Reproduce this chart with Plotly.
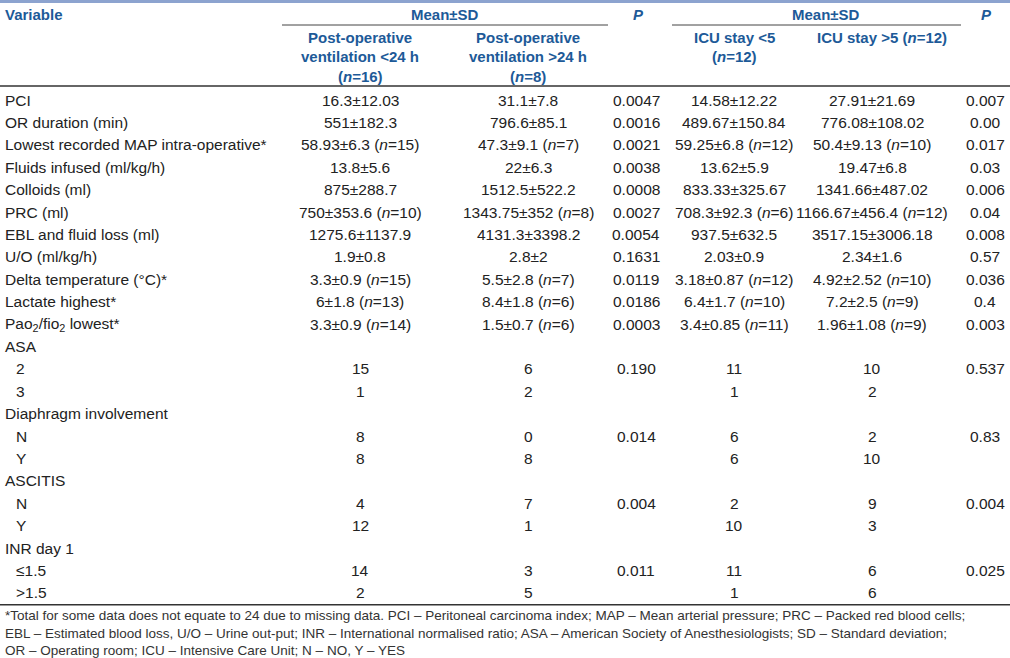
import plotly.graph_objects as go

# ---------------- data ----------------
variables = ["PCI", "OR duration (min)", "Lowest recorded MAP intra-operative*",
             "Fluids infused (ml/kg/h)", "Colloids (ml)", "PRC (ml)",
             "EBL and fluid loss (ml)", "U/O (ml/kg/h)", "Delta temperature (°C)*",
             "Lactate highest*", "Pao<sub>2</sub>/fio<sub>2</sub> lowest*",
             "ASA", "2", "3", "Diaphragm involvement", "N", "Y",
             "ASCITIS", "N", "Y", "INR day 1", "≤1.5", "&gt;1.5"]
is_sub = [0, 0, 0, 0, 0, 0, 0, 0, 0, 0, 0,
          0, 1, 1, 0, 1, 1, 0, 1, 1, 0, 1, 1]

vent_lt24 = ["16.3±12.03", "551±182.3", "58.93±6.3 (<i>n</i>=15)", "13.8±5.6",
             "875±288.7", "750±353.6 (<i>n</i>=10)", "1275.6±1137.9", "1.9±0.8",
             "3.3±0.9 (<i>n</i>=15)", "6±1.8 (<i>n</i>=13)", "3.3±0.9 (<i>n</i>=14)",
             "", "15", "1", "", "8", "8", "", "4", "12", "", "14", "2"]
vent_gt24 = ["31.1±7.8", "796.6±85.1", "47.3±9.1 (<i>n</i>=7)", "22±6.3",
             "1512.5±522.2", "1343.75±352 (<i>n</i>=8)", "4131.3±3398.2", "2.8±2",
             "5.5±2.8 (<i>n</i>=7)", "8.4±1.8 (<i>n</i>=6)", "1.5±0.7 (<i>n</i>=6)",
             "", "6", "2", "", "0", "8", "", "7", "1", "", "3", "5"]
p_vent = ["0.0047", "0.0016", "0.0021", "0.0038", "0.0008", "0.0027", "0.0054",
          "0.1631", "0.0119", "0.0186", "0.0003", "", "0.190", "", "", "0.014", "",
          "", "0.004", "", "", "0.011", ""]
icu_lt5 = ["14.58±12.22", "489.67±150.84", "59.25±6.8 (<i>n</i>=12)", "13.62±5.9",
           "833.33±325.67", "708.3±92.3 (<i>n</i>=6)", "937.5±632.5", "2.03±0.9",
           "3.18±0.87 (<i>n</i>=12)", "6.4±1.7 (<i>n</i>=10)", "3.4±0.85 (<i>n</i>=11)",
           "", "11", "1", "", "6", "6", "", "2", "10", "", "11", "1"]
icu_gt5 = ["27.91±21.69", "776.08±108.02", "50.4±9.13 (<i>n</i>=10)", "19.47±6.8",
           "1341.66±487.02", "1166.67±456.4 (<i>n</i>=12)", "3517.15±3006.18", "2.34±1.6",
           "4.92±2.52 (<i>n</i>=10)", "7.2±2.5 (<i>n</i>=9)", "1.96±1.08 (<i>n</i>=9)",
           "", "10", "2", "", "2", "10", "", "9", "3", "", "6", "6"]
p_icu = ["0.007", "0.00", "0.017", "0.03", "0.006", "0.04", "0.008", "0.57",
         "0.036", "0.4", "0.003", "", "0.537", "", "", "0.83", "", "", "0.004", "",
         "", "0.025", ""]

group_headers = ["Mean±SD", "<i>P</i>", "Mean±SD", "<i>P</i>"]
col_headers = [["Post-operative", "ventilation &lt;24 h", "(<i>n</i>=16)"],
               ["Post-operative", "ventilation &gt;24 h", "(<i>n</i>=8)"],
               ["ICU stay &lt;5", "(<i>n</i>=12)"],
               ["ICU stay &gt;5 (<i>n</i>=12)"]]
footnote = ["*Total for some data does not equate to 24 due to missing data. PCI – Peritoneal carcinoma index; MAP – Mean arterial pressure; PRC – Packed red blood cells;",
            "EBL – Estimated blood loss, U/O – Urine out-put; INR – International normalised ratio; ASA – American Society of Anesthesiologists; SD – Standard deviation;",
            "OR – Operating room; ICU – Intensive Care Unit; N – NO, Y – YES"]

# ---------------- layout constants ----------------
W, H = 1010, 658
BODY_FONT = "Liberation Sans, Arial, sans-serif"
FOOT_FONT = "Liberation Sans Narrow, Arial Narrow, Liberation Sans, sans-serif"
TXT = "#222222"
BLUE = "#1d5a98"
FS = 15.5
HFS = 15

col_x = [360, 528, 636, 734, 872, 985]
group_x = [445, 638, 826, 986]
col_head_x = [360, 528, 734, 882]
VAR_X, SUB_X = 3, 14
ROW0, ROW_H = 100, 22.4
HEAD0, HEAD_H = 37, 19.5

columns = [vent_lt24, vent_gt24, p_vent, icu_lt5, icu_gt5, p_icu]

fig = go.Figure()
ann = []

def add(x, y, text, anchor="center", color=TXT, size=FS, family=BODY_FONT, yanchor="middle"):
    ann.append(dict(x=x, y=y, xref="x", yref="y", text=text, showarrow=False,
                    xanchor=anchor, yanchor=yanchor, align=anchor if anchor != "center" else "center",
                    font=dict(family=family, size=size, color=color)))

# header
add(VAR_X, 14, "<b>Variable</b>", anchor="left", color=BLUE, size=HFS)
for gx, gh in zip(group_x, group_headers):
    add(gx, 14, "<b>" + gh + "</b>", color=BLUE, size=HFS)
for hx, lines in zip(col_head_x, col_headers):
    for j, ln in enumerate(lines):
        add(hx, HEAD0 + j * HEAD_H, "<b>" + ln + "</b>", color=BLUE, size=HFS)

# body rows
for i, v in enumerate(variables):
    y = ROW0 + i * ROW_H
    add(SUB_X if is_sub[i] else VAR_X, y, v, anchor="left")
    for cx, col in zip(col_x, columns):
        if col[i]:
            add(cx, y, col[i])

# footnote
last_y = ROW0 + (len(variables) - 1) * ROW_H
line_y = last_y + 12
for k, f in enumerate(footnote):
    add(VAR_X, line_y + 11 + k * 17.3, f, anchor="left", family=FOOT_FONT, size=13.5, color="#333333")

shapes = [
    dict(type="rect", xref="x", yref="y", x0=0, x1=W, y0=0, y1=3, fillcolor="#8ca3cf", line=dict(width=0)),
    dict(type="line", xref="x", yref="y", x0=282, x1=608, y0=25, y1=25, line=dict(color="#444444", width=1)),
    dict(type="line", xref="x", yref="y", x0=672, x1=961, y0=25, y1=25, line=dict(color="#444444", width=1)),
    dict(type="line", xref="x", yref="y", x0=0, x1=W, y0=86, y1=86, line=dict(color="#333333", width=1.5)),
    dict(type="line", xref="x", yref="y", x0=0, x1=W, y0=line_y, y1=line_y, line=dict(color="#333333", width=1.5)),
]

fig.update_layout(
    width=W, height=H, margin=dict(l=0, r=0, t=0, b=0),
    paper_bgcolor="white", plot_bgcolor="white",
    xaxis=dict(range=[0, W], visible=False, fixedrange=True),
    yaxis=dict(range=[H, 0], visible=False, fixedrange=True),
    annotations=ann, shapes=shapes, showlegend=False,
    font=dict(family=BODY_FONT, size=FS, color=TXT),
)

fig.write_html("out.html", config={"displayModeBar": False},
               post_script="document.body.style.margin='0';document.body.style.overflow='hidden';")
